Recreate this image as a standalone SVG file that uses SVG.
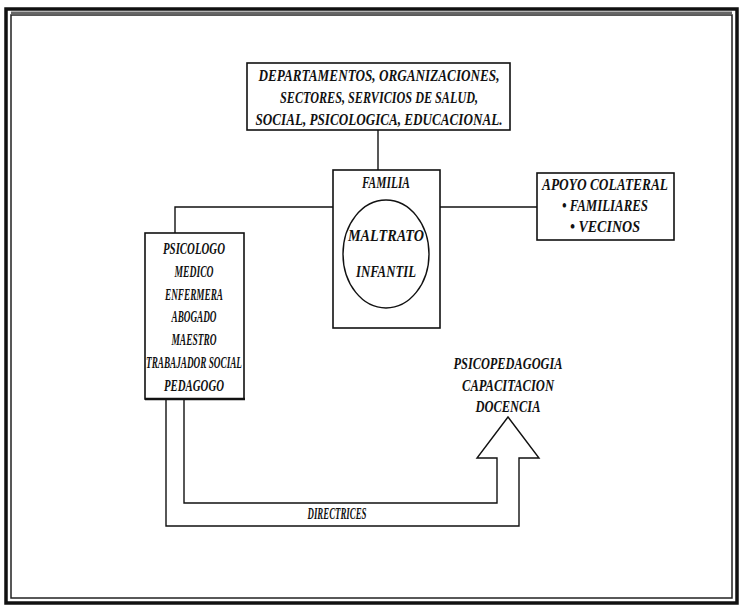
<svg xmlns="http://www.w3.org/2000/svg" width="742" height="612" viewBox="0 0 742 612">
<style>
.t{font-family:"Liberation Serif","Times New Roman",serif;font-weight:bold;font-style:italic;font-size:16px;fill:#111;text-anchor:middle}
.box{fill:#fff;stroke:#111;stroke-width:1.6}
.ln{fill:none;stroke:#111;stroke-width:1.4}
</style>
<rect x="0" y="0" width="742" height="612" fill="#fff"/>
<g id="frame">
<rect x="6" y="9" width="731" height="594" fill="none" stroke="#111" stroke-width="3.5"/>
<rect x="11" y="15" width="721" height="583" fill="none" stroke="#222" stroke-width="1.5"/>
<line x1="11" y1="13" x2="732" y2="13" stroke="#666" stroke-width="3"/>
</g>
<g id="connectors">
<line class="ln" x1="378" y1="130" x2="378" y2="170"/>
<polyline class="ln" points="175,233 175,207 333,207"/>
<line class="ln" x1="440" y1="207" x2="537" y2="207"/>
<polyline class="ln" points="184,400 184,503 497,503 497,458 477,458 508,417 539,458 519,458 519,526 166,526 166,400"/>
</g>
<g id="top">
<rect class="box" x="247" y="63" width="263" height="67"/>
<text class="t" x="379" y="81" textLength="241" lengthAdjust="spacingAndGlyphs">DEPARTAMENTOS, ORGANIZACIONES,</text>
<text class="t" x="379" y="103" textLength="198" lengthAdjust="spacingAndGlyphs">SECTORES, SERVICIOS DE SALUD,</text>
<text class="t" x="379" y="125" textLength="247" lengthAdjust="spacingAndGlyphs">SOCIAL, PSICOLOGICA, EDUCACIONAL.</text>
</g>
<g id="familia">
<rect class="box" x="333" y="170" width="107" height="158"/>
<text class="t" x="386" y="188" textLength="48" lengthAdjust="spacingAndGlyphs">FAMILIA</text>
<ellipse cx="386" cy="254" rx="43" ry="54" fill="none" stroke="#111" stroke-width="1.4"/>
<text class="t" x="386" y="241" textLength="76" lengthAdjust="spacingAndGlyphs">MALTRATO</text>
<text class="t" x="386" y="277" textLength="60" lengthAdjust="spacingAndGlyphs">INFANTIL</text>
</g>
<g id="apoyo">
<rect class="box" x="537" y="173" width="137" height="67"/>
<text class="t" x="605" y="190" textLength="126" lengthAdjust="spacingAndGlyphs">APOYO COLATERAL</text>
<text class="t" x="605" y="211" textLength="86" lengthAdjust="spacingAndGlyphs">• FAMILIARES</text>
<text class="t" x="605" y="232" textLength="70" lengthAdjust="spacingAndGlyphs">• VECINOS</text>
</g>
<g id="profesionales">
<rect class="box" x="145" y="233" width="99" height="166"/>
<line x1="145" y1="399" x2="245" y2="399" stroke="#111" stroke-width="2.5"/>
<text class="t" x="194" y="254" textLength="62" lengthAdjust="spacingAndGlyphs">PSICOLOGO</text>
<text class="t" x="194" y="277" textLength="39" lengthAdjust="spacingAndGlyphs">MEDICO</text>
<text class="t" x="194" y="300" textLength="58" lengthAdjust="spacingAndGlyphs">ENFERMERA</text>
<text class="t" x="194" y="322" textLength="45" lengthAdjust="spacingAndGlyphs">ABOGADO</text>
<text class="t" x="194" y="345" textLength="45" lengthAdjust="spacingAndGlyphs">MAESTRO</text>
<text class="t" x="194" y="368" textLength="96" lengthAdjust="spacingAndGlyphs">TRABAJADOR SOCIAL</text>
<text class="t" x="194" y="391" textLength="60" lengthAdjust="spacingAndGlyphs">PEDAGOGO</text>
</g>
<g id="areas">
<text class="t" x="508" y="369" textLength="109" lengthAdjust="spacingAndGlyphs">PSICOPEDAGOGIA</text>
<text class="t" x="508" y="391" textLength="92" lengthAdjust="spacingAndGlyphs">CAPACITACION</text>
<text class="t" x="508" y="412" textLength="65" lengthAdjust="spacingAndGlyphs">DOCENCIA</text>
</g>
<g id="directrices">
<text class="t" x="337" y="519" textLength="59" lengthAdjust="spacingAndGlyphs">DIRECTRICES</text>
</g>
</svg>
